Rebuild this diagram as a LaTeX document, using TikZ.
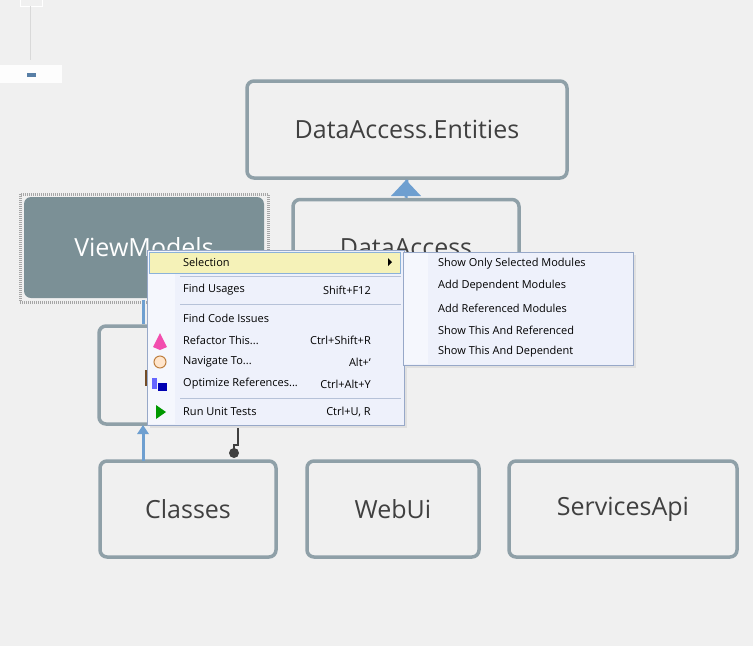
\documentclass[tikz,border=0pt]{standalone}
\usepackage{fontspec}
\setmainfont{Open Sans}
\begin{document}
\begin{tikzpicture}[x=1pt,y=-1pt,
 box/.style={draw=boxgray,line width=3.5pt,rounded corners=7pt,fill=bg,font=\fontsize{25}{28}\selectfont,text=txt},
 mi/.style={anchor=west,font=\fontsize{11}{13}\selectfont,inner sep=0},
 sc/.style={anchor=east,font=\fontsize{11}{13}\selectfont,inner sep=0},
 blu/.style={draw=arrblue,line width=3pt}]
\definecolor{bg}{HTML}{F0F0F0}
\definecolor{boxgray}{HTML}{8FA0A8}
\definecolor{txt}{HTML}{404040}
\definecolor{arrblue}{HTML}{6E9FD0}
\definecolor{menubg}{HTML}{EEF1FB}
\definecolor{menubd}{HTML}{97A8C8}
\definecolor{vmfill}{HTML}{7B9096}
\useasboundingbox[fill=bg] (0,0) rectangle (753,646);
% top-left remnant
\draw[draw=white,fill=bg] (20,-2) rectangle (42,6);
\draw[gray!30] (30,6) -- (30,60);
\fill[white!85!bg] (0,65) rectangle (62,83);
\node[fill=arrblue!80!black,minimum width=9pt,minimum height=4pt,inner sep=0] (tl) at (31,75) {};
% boxes
\node[box,minimum width=320,minimum height=97] (ent) at (407,129.5) {DataAccess.Entities};
\node[box,minimum width=226,minimum height=97] (da) at (406,248) {DataAccess};
\node[box,minimum width=176,minimum height=98] (hid) at (187,375) {};
\node[fill=brown!60!black,minimum width=3pt,minimum height=16pt,inner sep=0] (mk) at (146,378) {};
\draw[draw=gray!70,line width=3pt,dash pattern=on 1pt off 1pt] (20,194) rectangle (268,302);
\node[box,fill=vmfill,text=white,minimum width=240,minimum height=101,draw=none] (vm) at (144,247.5) {ViewModels};
\node[box,minimum width=176,minimum height=96] (cls) at (188,509) {Classes};
\node[box,minimum width=172,minimum height=96] (web) at (393,509) {WebUi};
\node[box,minimum width=228,minimum height=96] (svc) at (623,509) {ServicesApi};
% connectors
\draw[blu] (da.north) -- (ent.south);
\fill[arrblue] (391,196) -- (406,180) -- (421,196) -- cycle;
\draw[blu] ([xshift=-1]vm.south) -- ([xshift=-1]vm.south |- hid.north);
\draw[blu] (143,461) -- (143,432);
\fill[arrblue] (137,434) -- (143,425) -- (149,434) -- cycle;
\draw[line width=2.5pt,draw=black!75] (238,424) -- (238,445) -- (234,445) -- (234,453);
\fill[black!75] (234,453) circle (5pt);
% menu
\fill[black!12] (150,253) rectangle (407,428);
\fill[black!12] (406,255) rectangle (636,368);
\draw[menubd,fill=menubg] (147,250) rectangle (404,425);
\fill[white!40!menubg] (148,251) rectangle (175,424);
\draw[fill=yellow!25!bg,draw=arrblue!80] (149,252) rectangle (400,273);
\fill[black] (388,258) -- (392,262) -- (388,266) -- cycle;
\foreach \y in {276,304,398} \draw[menubd!70] (180,\y) -- (401,\y);
\node[mi] (m1) at (183,262) {Selection};
\node[mi] (m2) at (183,290) {Find Usages};
\node[sc] at (371,290) {Shift+F12};
\node[mi] (m3) at (183,318) {Find Code Issues};
\node[mi] (m4) at (183,340) {Refactor This...};
\node[sc] at (371,340) {Ctrl+Shift+R};
\node[mi] (m5) at (183,362) {Navigate To...};
\node[sc] at (371,362) {Alt+`};
\node[mi] (m6) at (183,384) {Optimize References...};
\node[sc] at (371,384) {Ctrl+Alt+Y};
\node[mi] (m7) at (183,412) {Run Unit Tests};
\node[sc] at (371,412) {Ctrl+U, R};
% icons
\fill[magenta!70] (153,347) -- (160,333) -- (167,347) -- (160,350) -- cycle;
\draw[brown,fill=orange!20,line width=1pt] (160,362) circle (6pt);
\fill[blue!60] (152,378) rectangle (157,389);
\fill[blue!70!black] (158,383) rectangle (167,391);
\fill[green!60!black] (156,405) -- (166,412) -- (156,419) -- cycle;
% submenu
\draw[menubd,fill=menubg] (403,252) rectangle (633,365);
\fill[white!40!menubg] (404,253) rectangle (428,364);
\node[mi] (s1) at (438,264) {Show Only Selected Modules};
\node[mi] (s2) at (438,286) {Add Dependent Modules};
\node[mi] (s3) at (438,308) {Add Referenced Modules};
\node[mi] (s4) at (438,330) {Show This And Referenced};
\node[mi] (s5) at (438,352) {Show This And Dependent};
\end{tikzpicture}
\end{document}
